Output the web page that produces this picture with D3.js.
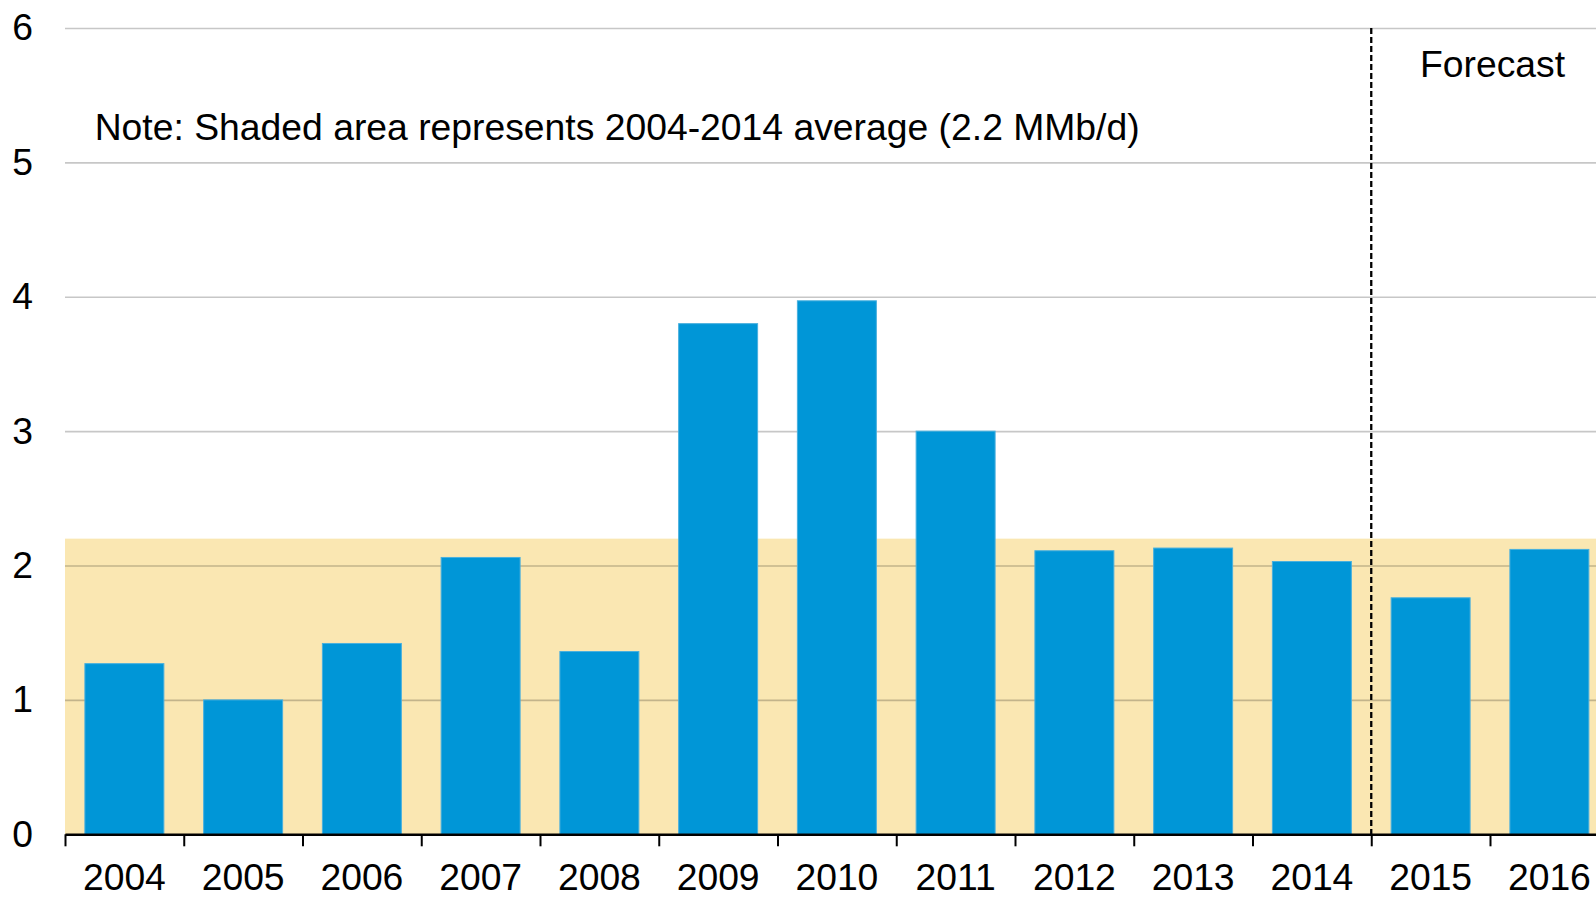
<!DOCTYPE html>
<html>
<head>
<meta charset="utf-8">
<script src="https://cdn.jsdelivr.net/npm/d3@7"></script>
<style>
  body { margin: 0; background: #fff; }
  svg { display: block; font-family: "Liberation Sans", Arial, sans-serif; }
</style>
</head>
<body>
<svg id="chart" width="1596" height="897"></svg>
<script>
var years = ["2004", "2005", "2006", "2007", "2008", "2009", "2010", "2011", "2012", "2013", "2014", "2015", "2016"];
var values = [1.27, 1.0, 1.42, 2.06, 1.36, 3.8, 3.97, 3.0, 2.11, 2.13, 2.03, 1.76, 2.12];
var averageValue = 2.2;
var yTicks = [0, 1, 2, 3, 4, 5, 6];
var forecastIndex = 11; // first forecast year (2015)
var noteText = "Note: Shaded area represents 2004-2014 average (2.2 MMb/d)";
var forecastText = "Forecast";

var W = 1596, H = 897;
// note: "top" is taken by window.top, so plot edges get their own names
var plotLeft = 65, plotRight = 65 + 13 * 118.75, plotTop = 28, plotBottom = 834.3;

var svg = d3.select("#chart");

var x = d3.scaleBand()
    .domain(years)
    .range([plotLeft, plotRight])
    .paddingInner(0.335)
    .paddingOuter(0.1675);

// boundaries between the year bands, for the tick marks
var xEdge = d3.scaleLinear().domain([0, years.length]).range([plotLeft, plotRight]);

var y = d3.scaleLinear().domain([0, 6]).range([plotBottom, plotTop]);

// shaded average band
svg.append("rect")
    .attr("x", plotLeft)
    .attr("y", y(averageValue))
    .attr("width", W - plotLeft)
    .attr("height", y(0) - y(averageValue))
    .attr("fill", "#fae7b2");

// gridlines
var grid = svg.append("g")
    .attr("transform", "translate(" + plotLeft + ",0)")
    .call(d3.axisLeft(y).tickValues(yTicks).tickSize(-(W - plotLeft)).tickFormat(""));
grid.select(".domain").remove();
grid.selectAll("line")
    .attr("stroke", "#000")
    .attr("stroke-opacity", 0.22)
    .attr("stroke-width", 1.6);

// y labels
var yAxis = svg.append("g")
    .attr("transform", "translate(" + plotLeft + ",0)")
    .call(d3.axisLeft(y).tickValues(yTicks).tickSize(0).tickPadding(32).tickFormat(d3.format("d")));
yAxis.select(".domain").remove();
yAxis.selectAll("text")
    .attr("font-size", 37.3)
    .attr("font-family", "Liberation Sans, Arial, sans-serif")
    .attr("fill", "#000");

// bars
svg.append("g")
  .selectAll("rect")
  .data(values)
  .join("rect")
    .attr("x", function(d, i){ return x(years[i]); })
    .attr("y", function(d){ return y(d); })
    .attr("width", x.bandwidth())
    .attr("height", function(d){ return y(0) - y(d); })
    .attr("fill", "#0096d7")
    .attr("stroke", "#48b0de")
    .attr("stroke-width", 1);

// forecast divider
svg.append("line")
    .attr("x1", xEdge(forecastIndex))
    .attr("x2", xEdge(forecastIndex))
    .attr("y1", y(6))
    .attr("y2", y(0))
    .attr("stroke", "#000")
    .attr("stroke-width", 2.3)
    .attr("stroke-dasharray", "6,3");

// x axis line + boundary ticks
var xTicks = svg.append("g")
    .attr("transform", "translate(0," + plotBottom + ")")
    .call(d3.axisBottom(xEdge).tickValues(d3.range(0, years.length + 1)).tickSize(12).tickSizeOuter(0).tickFormat(""));
xTicks.select(".domain").attr("stroke-width", 2.5);
xTicks.selectAll("line").attr("stroke-width", 2);

// year labels
var xAxis = svg.append("g")
    .attr("transform", "translate(0," + plotBottom + ")")
    .call(d3.axisBottom(x).tickSize(0).tickPadding(29.5));
xAxis.select(".domain").remove();
xAxis.selectAll("text")
    .attr("font-size", 37.3)
    .attr("font-family", "Liberation Sans, Arial, sans-serif")
    .attr("fill", "#000");

// annotations
svg.append("text")
    .attr("x", 94.7)
    .attr("y", 140)
    .attr("font-size", 37.3)
    .attr("fill", "#000")
    .text(noteText);

svg.append("text")
    .attr("x", 1420)
    .attr("y", 77)
    .attr("font-size", 37.3)
    .attr("fill", "#000")
    .text(forecastText);
</script>
</body>
</html>
